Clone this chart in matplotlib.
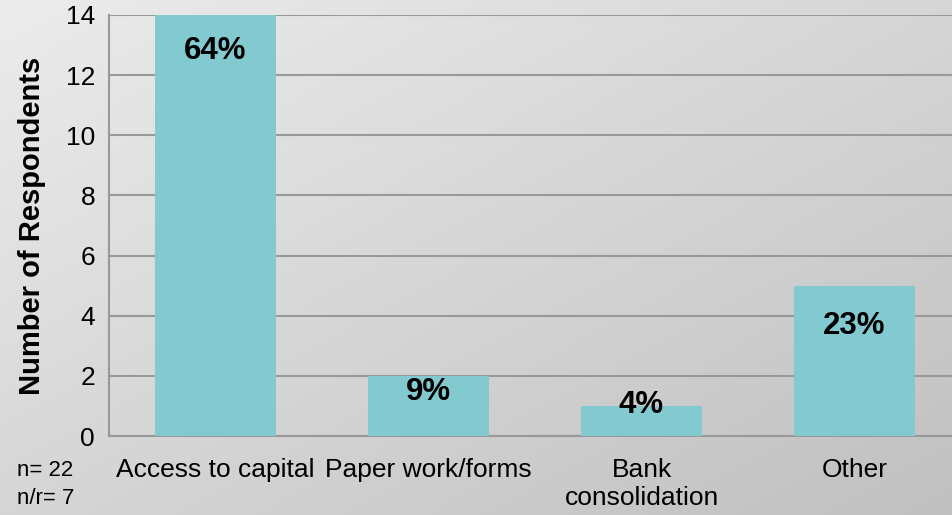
import numpy as np
import matplotlib
matplotlib.use("Agg")
import matplotlib.pyplot as plt

plt.rcParams['font.family'] = ['Liberation Sans', 'DejaVu Sans']

# data
categories = ['Access to capital', 'Paper work/forms', 'Bank\nconsolidation', 'Other']
counts = [14, 2, 1, 5]
pct_labels = ['64%', '9%', '4%', '23%']
label_y = [12.8, 1.45, 1.02, 3.65]   # where the % text sits (data units)
yticks = [0, 2, 4, 6, 8, 10, 12, 14]

fig = plt.figure(figsize=(9.53, 5.15), dpi=100)

# diagonal grey gradient behind everything (light top-left, darker bottom-right)
bg = fig.add_axes([0, 0, 1, 1], zorder=-10)
xx, yy = np.meshgrid(np.linspace(0, 1, 300), np.linspace(0, 1, 200))
t = 0.5 * xx + 0.5 * yy
lev = (236 - 44 * t) / 255.0
img = np.dstack([lev, lev, lev])
bg.imshow(img, aspect='auto', extent=[0, 1, 1, 0])
bg.axis('off')

ax = fig.add_axes([109 / 953, 1 - 436 / 515, 852 / 953, 421 / 515])
ax.patch.set_alpha(0)

x = np.arange(len(categories))
ax.bar(x, counts, width=0.57, color='#82CAD0', zorder=3)

for xi, lab, ly in zip(x, pct_labels, label_y):
    ax.text(xi, ly, lab, ha='center', va='center', fontsize=22.5,
            fontweight='bold', color='black', zorder=4)

ax.set_xlim(-0.5, 3.5)
ax.set_ylim(0, 14)
ax.set_yticks(yticks)
ax.set_xticks(x)
ax.set_xticklabels(categories, fontsize=19, linespacing=1.2)
ax.tick_params(axis='y', labelsize=19, length=0, pad=10)
ax.tick_params(axis='x', length=0, pad=16)
ax.yaxis.grid(True, color='#999999', linewidth=1.5, zorder=0)
ax.set_axisbelow(True)

for s in ['top', 'right']:
    ax.spines[s].set_visible(False)
ax.spines['left'].set_color('#999999')
ax.spines['bottom'].set_color('#999999')
ax.spines['left'].set_linewidth(1.5)
ax.spines['bottom'].set_linewidth(1.5)

ax.set_ylabel('Number of Respondents', fontsize=21, fontweight='bold', labelpad=14)

fig.text(17 / 953, 1 - 471 / 515, 'n= 22', fontsize=16, va='center', ha='left')
fig.text(17 / 953, 1 - 498 / 515, 'n/r= 7', fontsize=16, va='center', ha='left')

fig.savefig('out.png', dpi=100)
